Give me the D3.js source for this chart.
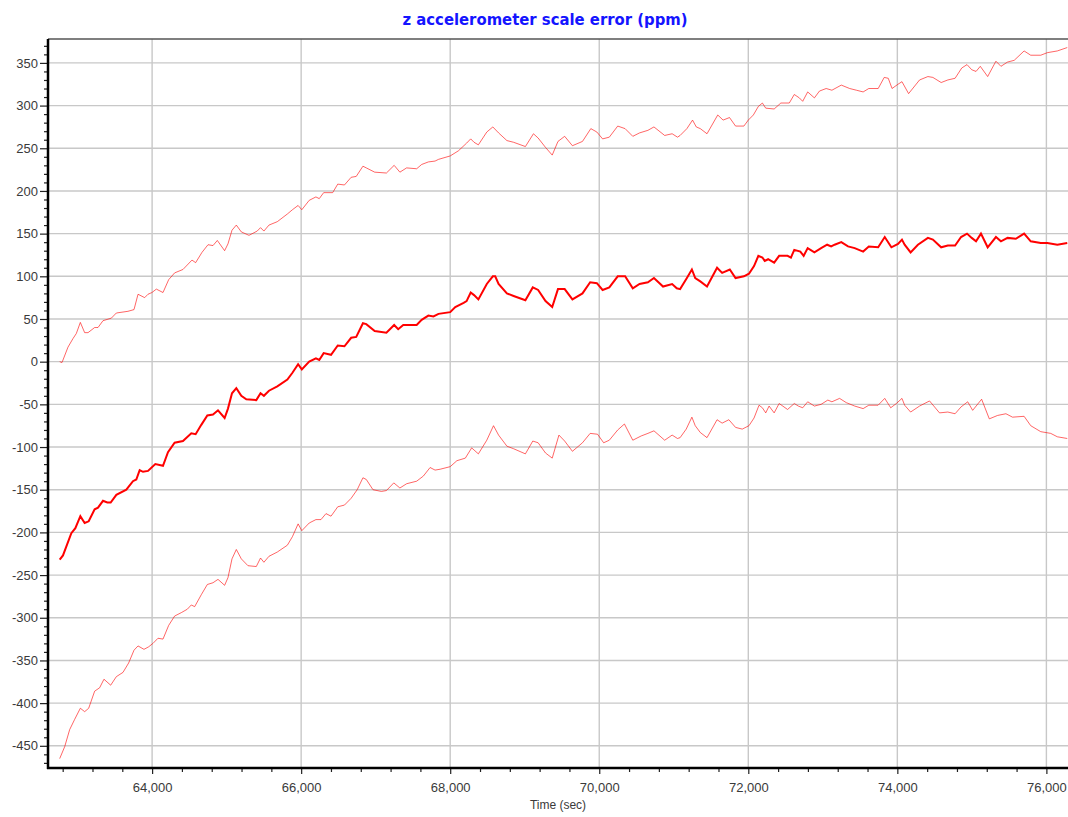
<!DOCTYPE html>
<html>
<head>
<meta charset="utf-8">
<script src="https://cdn.jsdelivr.net/npm/d3@7"></script>
<style>
  body { margin: 0; background: #fff; }
  #vis_1 { width: 1068px; height: 817px; }
</style>
</head>
<body>
<div id="vis_1"></div>
<script>
// data: [time (sec), scale error (ppm)]
var midSeries = [[62760,-232],[62804,-227],[62916,-201],[62970,-195],[63037,-181],[63095,-189],[63149,-187],[63229,-173],[63274,-171],[63341,-163],[63399,-165],[63444,-165],[63520,-156],[63654,-150],[63743,-140],[63788,-138],[63833,-127],[63878,-129],[63945,-128],[64043,-120],[64146,-122],[64213,-106],[64302,-95],[64414,-93],[64526,-84],[64584,-85],[64660,-74],[64741,-63],[64817,-62],[64884,-57],[64973,-66],[65018,-55],[65072,-37],[65130,-31],[65197,-40],[65264,-44],[65398,-45],[65455,-37],[65500,-40],[65568,-34],[65680,-29],[65815,-21],[65883,-13],[65959,-3],[66009,-9],[66108,0],[66198,4],[66243,2],[66302,10],[66401,8],[66491,19],[66581,18],[66671,28],[66739,29],[66829,45],[66874,44],[66987,36],[67144,34],[67248,43],[67302,38],[67370,43],[67550,43],[67617,49],[67707,54],[67775,53],[67843,56],[68000,58],[68068,64],[68180,69],[68220,71],[68275,81],[68320,78],[68378,73],[68491,91],[68572,100],[68604,100],[68649,91],[68761,80],[68851,77],[69009,72],[69108,87],[69180,84],[69279,71],[69369,64],[69446,85],[69536,85],[69640,73],[69775,80],[69878,93],[69968,92],[70045,84],[70135,87],[70248,100],[70347,100],[70450,86],[70541,91],[70653,93],[70734,98],[70856,88],[70978,91],[71040,86],[71085,85],[71176,98],[71243,108],[71288,98],[71356,94],[71446,88],[71581,110],[71649,104],[71752,108],[71829,98],[71941,100],[72009,103],[72077,112],[72135,124],[72189,122],[72221,118],[72266,120],[72347,116],[72414,124],[72527,124],[72572,122],[72617,131],[72698,129],[72743,124],[72797,133],[72887,128],[72977,133],[73058,137],[73112,135],[73158,137],[73248,140],[73338,135],[73428,133],[73541,129],[73617,135],[73743,134],[73831,146],[73920,134],[74009,138],[74062,143],[74098,137],[74178,128],[74276,137],[74410,145],[74477,143],[74588,134],[74677,136],[74775,136],[74855,146],[74935,150],[74998,145],[75056,141],[75122,150],[75212,134],[75323,146],[75390,141],[75479,145],[75590,144],[75701,150],[75790,141],[75924,139],[76013,139],[76147,137],[76280,139]];

var upperSeries = [[62760,0],[62791,-1],[62871,17],[62938,27],[62983,33],[63037,46],[63095,34],[63140,34],[63229,40],[63274,40],[63341,48],[63453,51],[63520,57],[63676,59],[63757,61],[63811,79],[63900,75],[63945,79],[63998,81],[64057,85],[64146,81],[64222,96],[64302,104],[64414,108],[64535,119],[64584,116],[64669,128],[64750,137],[64817,136],[64875,142],[64973,130],[65018,138],[65072,154],[65130,160],[65197,152],[65300,148],[65410,153],[65455,157],[65500,153],[65568,160],[65680,164],[65815,173],[65883,178],[65959,183],[66009,178],[66108,189],[66198,193],[66243,191],[66302,198],[66423,198],[66491,208],[66581,207],[66671,216],[66739,217],[66829,229],[66874,227],[66987,222],[67144,221],[67248,230],[67325,222],[67415,227],[67550,226],[67617,231],[67707,234],[67797,235],[67843,237],[68000,241],[68110,247],[68220,256],[68275,261],[68320,257],[68378,254],[68491,269],[68572,275],[68649,268],[68761,259],[68851,257],[69009,252],[69117,267],[69180,262],[69279,251],[69369,242],[69446,258],[69536,264],[69640,253],[69775,258],[69887,273],[69968,269],[70045,261],[70135,263],[70248,276],[70347,273],[70450,264],[70541,268],[70653,271],[70734,275],[70878,265],[70978,267],[71050,263],[71085,265],[71176,273],[71252,283],[71302,275],[71356,273],[71446,267],[71590,289],[71662,283],[71748,286],[71829,276],[71941,276],[72000,283],[72068,289],[72135,299],[72189,303],[72234,297],[72347,296],[72437,303],[72550,303],[72617,313],[72685,309],[72730,305],[72797,316],[72887,309],[72955,317],[73045,320],[73122,318],[73248,324],[73360,320],[73451,318],[73541,316],[73617,320],[73743,320],[73824,333],[73878,332],[73929,320],[74009,325],[74062,328],[74151,314],[74298,330],[74410,334],[74477,333],[74588,327],[74677,330],[74775,332],[74864,344],[74935,348],[74998,342],[75056,340],[75113,346],[75212,334],[75323,352],[75390,346],[75479,351],[75568,353],[75701,364],[75790,359],[75924,359],[76013,362],[76147,364],[76280,368]];

var lowerSeries = [[62760,-465],[62827,-451],[62894,-431],[62961,-419],[63037,-406],[63095,-410],[63149,-406],[63229,-386],[63296,-382],[63354,-372],[63444,-379],[63520,-369],[63609,-364],[63685,-353],[63757,-338],[63811,-333],[63891,-337],[63954,-334],[64012,-330],[64079,-324],[64146,-325],[64222,-309],[64302,-298],[64392,-294],[64472,-290],[64526,-285],[64571,-287],[64660,-273],[64741,-261],[64817,-259],[64884,-255],[64973,-262],[65018,-253],[65072,-231],[65130,-220],[65197,-231],[65286,-239],[65398,-240],[65455,-230],[65500,-235],[65568,-228],[65680,-223],[65815,-215],[65883,-205],[65959,-190],[66009,-198],[66108,-189],[66198,-185],[66266,-185],[66333,-178],[66401,-181],[66491,-170],[66581,-168],[66671,-160],[66752,-150],[66829,-136],[66874,-138],[66964,-150],[67077,-152],[67144,-151],[67243,-142],[67325,-148],[67415,-143],[67550,-140],[67640,-134],[67730,-124],[67797,-127],[67865,-126],[68000,-123],[68090,-116],[68203,-113],[68288,-101],[68378,-108],[68491,-92],[68581,-75],[68649,-86],[68761,-99],[68851,-102],[69009,-108],[69108,-93],[69180,-95],[69279,-107],[69369,-113],[69459,-86],[69536,-93],[69640,-105],[69775,-95],[69878,-84],[69977,-85],[70059,-95],[70135,-92],[70248,-80],[70338,-73],[70450,-92],[70563,-87],[70653,-84],[70734,-81],[70878,-92],[70978,-86],[71050,-90],[71085,-89],[71167,-79],[71243,-65],[71288,-75],[71356,-83],[71446,-89],[71581,-68],[71649,-72],[71739,-68],[71829,-77],[71919,-79],[72009,-75],[72077,-66],[72144,-51],[72189,-54],[72234,-60],[72279,-52],[72347,-60],[72414,-49],[72527,-56],[72617,-49],[72671,-52],[72730,-54],[72797,-47],[72887,-52],[72977,-50],[73067,-45],[73122,-47],[73225,-43],[73315,-48],[73428,-52],[73541,-55],[73617,-51],[73742,-51],[73831,-43],[73911,-54],[73987,-49],[74062,-43],[74098,-51],[74178,-59],[74298,-52],[74432,-46],[74566,-60],[74677,-59],[74775,-61],[74855,-53],[74944,-47],[75011,-57],[75131,-44],[75234,-67],[75345,-63],[75457,-61],[75546,-65],[75701,-64],[75790,-75],[75924,-82],[76058,-84],[76147,-88],[76280,-90]];

var xTicks = [64000, 66000, 68000, 70000, 72000, 74000, 76000];
var yTicks = [-450, -400, -350, -300, -250, -200, -150, -100, -50, 0, 50, 100, 150, 200, 250, 300, 350];
var xDomain = [62603, 76290];
var yDomain = [-476, 378];
var chartTitle = "z accelerometer scale error (ppm)";
var xTitle = "Time (sec)";

var svg_id = '#vis_1';
var margin = {top: 39, right: 0, bottom: 49, left: 48},
    width = 1068 - margin.left - margin.right,
    height = 817 - margin.top - margin.bottom;

var root = d3.select(svg_id)
    .append("svg")
    .attr("width", width + margin.left + margin.right)
    .attr("height", height + margin.top + margin.bottom)
    .style("font-family", "'Liberation Sans', Arial, sans-serif");

var svg = root.append("g")
    .attr("transform", "translate(" + margin.left + "," + margin.top + ")");

var x = d3.scaleLinear().domain(xDomain).range([0, width]);
var y = d3.scaleLinear().domain(yDomain).range([height, 0]);

// grid
svg.append("g")
    .selectAll("line")
    .data(yTicks)
    .enter().append("line")
    .attr("x1", 0).attr("x2", width)
    .attr("y1", function(d) { return y(d); })
    .attr("y2", function(d) { return y(d); })
    .style("stroke", "#c8c8c8")
    .style("stroke-width", 1.4);

svg.append("g")
    .selectAll("line")
    .data(xTicks)
    .enter().append("line")
    .attr("y1", 0).attr("y2", height)
    .attr("x1", function(d) { return x(d); })
    .attr("x2", function(d) { return x(d); })
    .style("stroke", "#c8c8c8")
    .style("stroke-width", 1.4);

// top border
svg.append("line")
    .attr("x1", 0).attr("x2", width)
    .attr("y1", 0).attr("y2", 0)
    .style("stroke", "#555")
    .style("stroke-width", 1.5);

// minor ticks
var xMinor = d3.range(62800, 76300, 400).filter(function(d) { return xTicks.indexOf(d) < 0; });
var yMinor = d3.range(-470, 380, 10).filter(function(d) { return yTicks.indexOf(d) < 0; });

var xAxis = svg.append("g")
    .attr("transform", "translate(0," + height + ")")
    .call(d3.axisBottom(x).tickValues(xMinor).tickSize(4).tickFormat(""));
var xAxisMajor = svg.append("g")
    .attr("transform", "translate(0," + height + ")")
    .call(d3.axisBottom(x).tickValues(xTicks).tickSize(6).tickPadding(9)
        .tickFormat(d3.format(",")));

// plain hyphen for negatives, like the original
var yAxis = svg.append("g")
    .call(d3.axisLeft(y).tickValues(yMinor).tickSize(4).tickFormat(""));
var yAxisMajor = svg.append("g")
    .call(d3.axisLeft(y).tickValues(yTicks).tickSize(8).tickPadding(2)
        .tickFormat(function(d) { return String(d); }));

[xAxis, xAxisMajor, yAxis, yAxisMajor].forEach(function(a) {
    a.select(".domain").remove();
    a.selectAll(".tick line").style("stroke", "#222").style("stroke-width", 1.2);
    a.selectAll(".tick text")
        .style("font-family", "'Liberation Sans', Arial, sans-serif")
        .style("font-size", "13px")
        .style("fill", "#3a3a3a");
});

// heavy axis lines
svg.append("line")
    .attr("x1", 0).attr("x2", 0).attr("y1", 0).attr("y2", height + 1)
    .style("stroke", "#000").style("stroke-width", 2.5);
svg.append("line")
    .attr("x1", -1).attr("x2", width).attr("y1", height).attr("y2", height)
    .style("stroke", "#000").style("stroke-width", 2.5);

// series
var line = d3.line()
    .x(function(d) { return x(d[0]); })
    .y(function(d) { return y(d[1]); });

var plot = svg.append("g");
plot.append("path").datum(upperSeries)
    .attr("d", line)
    .style("fill", "none").style("stroke", "#ff0000")
    .style("stroke-width", 1).style("opacity", 0.6);
plot.append("path").datum(lowerSeries)
    .attr("d", line)
    .style("fill", "none").style("stroke", "#ff0000")
    .style("stroke-width", 1).style("opacity", 0.6);
plot.append("path").datum(midSeries)
    .attr("d", line)
    .style("fill", "none").style("stroke", "#ff0000")
    .style("stroke-width", 2);

// titles
root.append("text")
    .attr("x", 545)
    .attr("y", 25)
    .attr("text-anchor", "middle")
    .style("font-family", "'DejaVu Sans Condensed', 'DejaVu Sans', sans-serif")
    .style("font-weight", "bold")
    .style("font-size", "16.5px")
    .style("fill", "#1414ff")
    .text(chartTitle);

root.append("text")
    .attr("x", margin.left + width / 2)
    .attr("y", 809)
    .attr("text-anchor", "middle")
    .style("font-size", "12px")
    .style("fill", "#3a3a3a")
    .text(xTitle);
</script>
</body>
</html>
